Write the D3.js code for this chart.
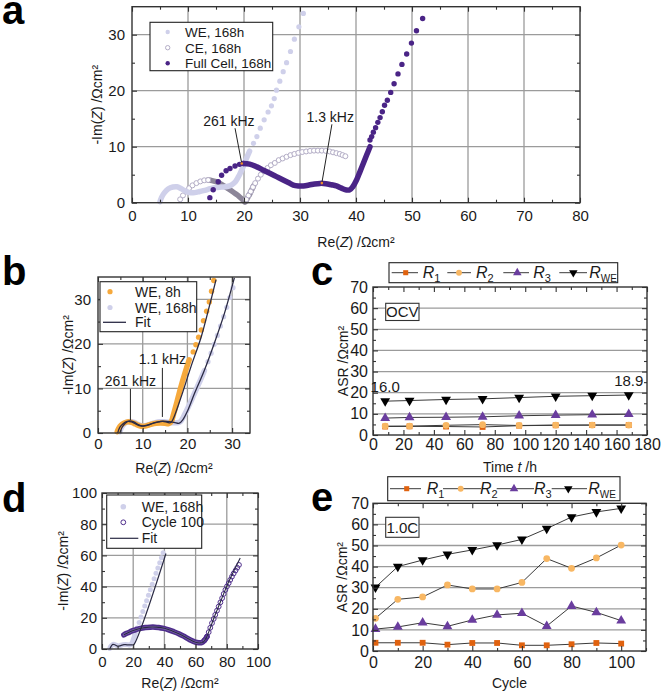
<!DOCTYPE html>
<html><head><meta charset="utf-8">
<script src="https://cdn.jsdelivr.net/npm/d3@7"></script>
<style>body{margin:0;background:#fff}</style>
</head><body><svg id="c" width="661" height="694" xmlns="http://www.w3.org/2000/svg"></svg>
<script>
// ---------------- DATA ----------------
// Panel a (Nyquist, Ωcm²)
const aWEDenseX = [5.0,5.3,5.8,6.5,7.3,8.0,8.8,9.5,10.3,11.2,12.1,13.0,14.0,15.0,16.0,17.0,17.8,18.5,19.2,19.8,20.4,21.0];
const aWEDenseY = [0.2,1.0,1.8,2.5,2.8,2.85,2.5,2.1,1.8,1.8,2.0,2.2,2.5,2.7,2.8,2.9,3.2,3.8,5.0,6.3,7.8,9.2];
const aWESparseX = [21.7,22.3,22.9,23.6,24.3,24.9,25.4,25.8,26.4,27.0,27.6,28.3,29.0,29.8,30.6];
const aWESparseY = [10.6,11.8,13.3,14.8,16.2,17.3,18.6,20.1,21.7,23.4,25.0,27.0,29.2,31.4,33.8];
const aCEX = [8.6,9.1,9.6,10.2,10.8,11.5,12.2,12.9,13.6,20.4,20.8,21.2,21.6,22.0,22.5,23.0,23.6,24.2,24.8,25.5,26.2,26.9,27.6,28.3,29.0,29.7,30.4,31.1,31.8,32.5,33.2,33.9,34.6,35.3,35.9,36.5,37.1,37.6,38.1];
const aCEY = [0.6,1.3,2.0,2.6,3.1,3.5,3.8,4.0,4.05,0.6,1.3,2.0,2.8,3.5,4.3,5.0,5.6,6.2,6.7,7.1,7.6,7.9,8.2,8.5,8.7,8.9,9.05,9.15,9.25,9.3,9.3,9.3,9.25,9.15,9.0,8.85,8.7,8.5,8.3];
const aCEDenseX = [13.6,14.3,15.0,15.7,16.4,17.1,17.8,18.5,19.1,19.6,20.0,20.2,20.6,21.1,21.7];
const aCEDenseY = [4.05,3.95,3.75,3.46,3.0,2.55,2.1,1.6,1.15,0.7,0.3,0.1,0.8,1.7,3.0];
const aFullSparse1X = [13.9,14.5,15.4,16.0,16.8,17.5,18.4,19.2,19.9];
const aFullSparse1Y = [0.9,2.3,3.75,4.9,5.7,6.1,6.55,6.85,7.0];
const aFullDenseX = [19.9,21.0,22.3,23.5,24.6,25.8,27.0,28.0,28.8,29.7,30.6,31.6,32.6,33.6,34.6,35.6,36.5,37.4,38.3,38.9,39.4,40.1,40.7,41.3,41.9,42.5];
const aFullDenseY = [7.0,6.9,6.4,5.8,5.25,4.65,4.05,3.55,3.15,3.0,3.0,3.15,3.35,3.45,3.4,3.2,3.0,2.6,2.27,2.3,2.8,4.05,5.5,7.0,8.5,10.0];
const aFullSparse2X = [42.5,42.8,43.1,43.5,43.9,44.3,44.7,45.1,45.6,46.2,46.8,47.5,48.2,49.05,49.9,50.8,51.9];
const aFullSparse2Y = [11.2,11.8,12.6,13.4,14.35,15.2,16.25,17.4,18.3,19.7,21.25,23.0,24.7,26.55,28.5,30.7,32.9];
const aAnnotLabel = ["261 kHz","1.3 kHz"];
const aAnnotPointX = [19.6,33.9], aAnnotPointY = [7.0,3.5];
const aAnnotTextX = [17.3,35.4], aAnnotTextY = [14.6,15.3];
const aAnnotLeadX = [18.4,35.7], aAnnotLeadY = [13.3,14.0];
const aLegend = ["WE, 168h","CE, 168h","Full Cell, 168h"];
const aXTicks = [0,10,20,30,40,50,60,70,80], aYTicks = [0,10,20,30];

// Panel b
const bWE8DenseX = [4.3,4.6,5.1,5.8,6.6,7.5,8.4,9.3,10.2,11.1,12.0,13.0,14.0,15.0,15.8,16.4,16.9,17.4,17.9,18.4,18.9,19.4,19.9,20.4];
const bWE8DenseY = [0.3,1.0,1.7,2.2,2.5,2.4,2.0,1.6,1.5,1.7,2.0,2.2,2.25,2.2,2.1,2.6,4.2,6.0,7.9,9.8,11.6,13.3,14.9,16.4];
const bWE8SparseX = [21.3,21.9,22.5,23.1,23.6,24.3,24.9,25.4,25.9];
const bWE8SparseY = [18.2,19.8,21.5,23.1,25.2,27.3,29.4,31.8,34.2];
const bWE168DenseX = [4.9,5.2,5.7,6.4,7.2,8.1,9.0,9.9,10.8,11.8,12.8,13.8,14.8,15.8,16.8,17.8,18.5,19.1,19.8,20.6,21.4,22.2,23.0,23.8];
const bWE168DenseY = [0.3,1.1,1.9,2.4,2.6,2.4,1.9,1.6,1.7,2.0,2.3,2.5,2.5,2.4,2.3,2.3,2.6,3.6,5.0,6.7,8.5,10.3,12.1,14.0];
const bWE168SparseX = [24.6,25.3,26.0,26.7,27.4,28.1,28.8,29.5,30.2];
const bWE168SparseY = [16.0,17.9,19.9,21.9,24.0,26.1,28.2,30.4,32.6];
const bFit8X = [4.4,4.9,5.6,6.5,7.5,8.5,9.5,10.5,11.5,12.5,13.5,14.5,15.5,16.2,16.7,18.6,20.8,23.1,24.9,26.4];
const bFit8Y = [0.0,1.3,2.1,2.6,2.5,2.0,1.6,1.6,1.9,2.3,2.5,2.6,2.4,2.3,2.9,8.1,14.9,21.6,28.4,34.4];
const bFit168X = [4.9,5.4,6.1,7.0,8.0,9.0,10.0,11.2,12.5,14.0,15.5,17.0,18.2,19.0,20.1,21.6,23.8,26.0,28.3,30.5];
const bFit168Y = [0.0,1.3,2.2,2.7,2.5,1.9,1.6,1.8,2.2,2.6,2.6,2.4,2.2,3.0,5.1,8.9,14.1,20.1,26.9,34.8];
const bAnnotLabel = ["261 kHz","1.1 kHz"];
const bAnnotTextX = [7.25,14.4], bAnnotTextY = [11.7,16.5];
const bAnnotTopY = [9.9,14.6], bAnnotBotY = [2.9,3.6];
const bLegend = ["WE, 8h","WE, 168h","Fit"];
const bXTicks = [0,10,20,30], bYTicks = [0,10,20,30];

// Panel c
const cTime = [8,24,48,72,96,120,144,168];
const cR1 = [4.0,4.1,4.0,3.8,4.4,4.6,4.7,4.7];
const cR2 = [4.2,4.2,4.6,4.9,4.5,4.7,4.7,4.7];
const cR3 = [8.0,8.3,8.4,8.6,9.1,9.4,9.6,9.8];
const cRWE = [16.0,16.3,16.8,17.1,17.7,18.3,18.6,18.9];
const cXTicks = [0,20,40,60,80,100,120,140,160,180], cYTicks = [0,10,20,30,40,50,60,70];

// Panel d
const dWEDenseX = [5,5.5,6.5,7.5,9,10.5,12,13.5,15,16.5,18,19,20.2,21.4];
const dWEDenseY = [0.3,1.5,2.6,3.0,2.5,2.0,2.4,2.8,2.9,2.8,2.6,3.5,6.5,10];
const dWESparseX = [22.6,23.8,25.0,26.2,27.4,28.6,29.8,31.0,32.2,33.4,34.6,35.8,37.0,38.1,39.2];
const dWESparseY = [13.5,17.0,20.5,24.0,27.5,31.0,34.5,38.0,41.5,45.0,48.5,52.0,55.3,58.5,61.7];
const dFitWEX = [5,6,7,8.5,10,12,14,16,18,19.5,20.3,41];
const dFitWEY = [0,2,3,2.6,1.8,2.2,2.8,2.7,2.6,2.6,2.7,61.2];
const dC100X = [14,15.5,17.2,19,21.4,24,27.8,31,34,36.3,39.5,42.7,46,49.2,52,54.5,57,59.8,62,64.1,65.7,67.3,68.4,69.4,70.5,71.6,72.6,73.7,74.8,75.9,77,78.0,79.1,80.1,81.2,82.2,83.3,84.4,85.6,86.7,87.8];
const dC100Y = [9.1,9.9,10.6,11.5,12.3,13.1,13.8,14.0,14.0,13.8,13.2,12.3,11.1,9.8,8.4,7.0,5.6,4.4,4.0,4.2,5.6,8.0,10.8,13.6,16.6,19.3,21.9,24.6,27.2,29.9,32.6,35.3,37.9,40.1,42.2,44.3,46.4,48.4,50.3,52.1,53.9];
const dFit100X = [14,17,21,25,30,35,40,45,50,55,60,63,65,67,69,72,76,80,84,88.6];
const dFit100Y = [9.1,10.6,12.2,13.3,14.0,14.0,13.3,11.6,9.4,6.8,4.3,3.9,4.6,7.5,12.5,20.5,30.4,40.3,49.0,58.3];
const dLegend = ["WE, 168h","Cycle 100","Fit"];
const dXTicks = [0,20,40,60,80,100], dYTicks = [0,20,40,60,80,100];

// Panel e
const eCycle = [1,10,20,30,40,50,60,70,80,90,100];
const eR1 = [3.9,3.9,3.9,3.0,3.8,3.8,2.7,2.7,3.2,3.8,3.5];
const eR2 = [15.5,24.5,25.6,31.3,29.4,29.4,32.5,43.8,39.2,44.1,50.2];
const eR3 = [10.4,11.4,13.4,11.7,14.7,17.1,17.9,11.8,21.3,18.3,14.4];
const eRWE = [30.2,40.0,43.1,45.8,47.9,50.2,52.9,58.0,63.5,65.9,67.6];
const eXTicks = [0,20,40,60,80,100], eYTicks = [0,10,20,30,40,50,60,70];

const seriesNames = ["1","2","3","WE"];

// ---------------- STYLE ----------------
const FONT = "'Liberation Sans', Arial, Helvetica, sans-serif";
const AX = "#333", GRID = "#9b9b9b", TXT = "#1a1a1a";
const C_WE = "#cfd0ea", C_CE = "#b3adc6", C_CEd = "#8c8699", C_FULL = "#4a2486";
const C_OR = "#f6a93c", C_FIT = "#2b2b45", C_C100 = "#4f2e8c";
const C_R1 = "#e0620f", C_R2 = "#f8b763", C_R3 = "#6a3d9e", C_RWE = "#000";

const svg = d3.select("#c");
const zip = (xs, ys) => xs.map((v,i)=>[v, ys[i]]);
const range = (a,b,s)=>d3.range(a,b+1e-9,s);

function makePanel(o){
  const g = svg.append("g");
  const x = d3.scaleLinear().domain(o.xd).range([o.l,o.r]);
  const y = d3.scaleLinear().domain(o.yd).range([o.b,o.t]);
  const inside = (v,d)=> v>d[0]+1e-9 && v<d[1]-1e-9;
  if(o.xGrid) g.append("g").selectAll("line").data(o.xGrid.filter(v=>inside(v,o.xd))).join("line")
    .attr("x1",d=>x(d)).attr("x2",d=>x(d)).attr("y1",o.t).attr("y2",o.b).attr("stroke",GRID).attr("stroke-width",1.3);
  if(o.yGrid) g.append("g").selectAll("line").data(o.yGrid.filter(v=>inside(v,o.yd))).join("line")
    .attr("y1",d=>y(d)).attr("y2",d=>y(d)).attr("x1",o.l).attr("x2",o.r).attr("stroke",GRID).attr("stroke-width",1.3);
  const data = g.append("g");
  const over = g.append("g");
  const ax = (axis, tr, labels) => {
    const s = over.append("g").attr("transform",tr).call(axis);
    s.select(".domain").remove();
    s.selectAll(".tick line").attr("stroke",AX).attr("stroke-width",1.1);
    s.selectAll("text").attr("font-size", o.fs||15).attr("font-family",FONT).attr("fill",TXT);
    if(!labels) s.selectAll("text").remove();
    return s;
  };
  const fmt = d3.format("d");
  ax(d3.axisBottom(x).tickValues(o.xMinor).tickSize(-3), `translate(0,${o.b})`, false);
  ax(d3.axisBottom(x).tickValues(o.xTicks).tickSize(-5).tickPadding(o.xpad).tickFormat(fmt), `translate(0,${o.b})`, true);
  ax(d3.axisTop(x).tickValues(o.xMinor).tickSize(-3), `translate(0,${o.t})`, false);
  ax(d3.axisTop(x).tickValues(o.xTicks).tickSize(-5), `translate(0,${o.t})`, false);
  ax(d3.axisLeft(y).tickValues(o.yMinor).tickSize(-3), `translate(${o.l},0)`, false);
  ax(d3.axisLeft(y).tickValues(o.yTicks).tickSize(-5).tickPadding(o.ypad).tickFormat(fmt), `translate(${o.l},0)`, true);
  ax(d3.axisRight(y).tickValues(o.yMinor).tickSize(-3), `translate(${o.r},0)`, false);
  ax(d3.axisRight(y).tickValues(o.yTicks).tickSize(-5), `translate(${o.r},0)`, false);
  over.append("rect").attr("x",o.l).attr("y",o.t).attr("width",o.r-o.l).attr("height",o.b-o.t)
    .attr("fill","none").attr("stroke",AX).attr("stroke-width",1.4);
  // titles
  const xt = svg.append("text").attr("x",(o.l+o.r)/2).attr("y",o.xty).attr("text-anchor","middle")
    .attr("font-family",FONT).attr("font-size",14).attr("fill",TXT);
  o.xTitle(xt);
  const yt = svg.append("text").attr("transform",`translate(${o.ytx},${(o.t+o.b)/2}) rotate(-90)`)
    .attr("text-anchor","middle").attr("dominant-baseline","central")
    .attr("font-family",FONT).attr("font-size",14).attr("fill",TXT);
  o.yTitle(yt);
  return {x,y,data,over,g,o};
}
const reZ = t => { t.append("tspan").text("Re("); t.append("tspan").attr("font-style","italic").text("Z"); t.append("tspan").text(") /Ωcm²"); };
const imZ = t => { t.append("tspan").text("-Im("); t.append("tspan").attr("font-style","italic").text("Z"); t.append("tspan").text(") /Ωcm²"); };
const asr = t => t.text("ASR /Ωcm²");

function band(P, pts, color, w){
  P.data.append("path").datum(pts).attr("d", d3.line().x(d=>P.x(d[0])).y(d=>P.y(d[1])).curve(d3.curveCatmullRom))
    .attr("fill","none").attr("stroke",color).attr("stroke-width",w).attr("stroke-linecap","round").attr("stroke-linejoin","round");
}
function dots(P, pts, r, fill, stroke, sw){
  P.data.append("g").selectAll("circle").data(pts).join("circle")
    .attr("cx",d=>P.x(d[0])).attr("cy",d=>P.y(d[1])).attr("r",r)
    .attr("fill",fill).attr("stroke",stroke||"none").attr("stroke-width",sw||1);
}
function fitLine(P, pts, color, w){
  P.data.append("path").datum(pts).attr("d", d3.line().x(d=>P.x(d[0])).y(d=>P.y(d[1])).curve(d3.curveCatmullRom))
    .attr("fill","none").attr("stroke",color).attr("stroke-width",w||1.3);
}
function panelLabel(ch, x, y){
  svg.append("text").attr("x",x).attr("y",y).attr("font-family","'Liberation Sans', Arial, sans-serif")
    .attr("font-weight","bold").attr("font-size",40).attr("fill","#000").text(ch);
}
function legendBox(x0,y0,x1,y1){
  svg.append("rect").attr("x",x0).attr("y",y0).attr("width",x1-x0).attr("height",y1-y0)
    .attr("fill","#fff").attr("stroke","#222").attr("stroke-width",1.1);
}

// ---------------- PANEL A ----------------
const A = makePanel({l:132,r:580,t:6.7,b:202.7,xd:[0,80],yd:[0,35],
  xTicks:aXTicks,xMinor:range(5,75,10),yTicks:aYTicks,yMinor:[5,15,25],
  xGrid:aXTicks,yGrid:aYTicks,xpad:8,ypad:7,xty:247,ytx:97,xTitle:reZ,yTitle:imZ});
// CE
band(A, zip(aCEDenseX,aCEDenseY), C_CEd, 5.5);
dots(A, zip(aCEX,aCEY), 2.5, "#fff", C_CE, 1);
// WE
band(A, zip(aWEDenseX,aWEDenseY), C_WE, 5.5);
dots(A, zip(aWESparseX,aWESparseY), 2.6, C_WE);
// full cell
dots(A, zip(aFullSparse1X,aFullSparse1Y), 2.7, C_FULL);
band(A, zip(aFullDenseX,aFullDenseY), C_FULL, 5.5);
dots(A, zip(aFullSparse2X,aFullSparse2Y), 2.7, C_FULL);
// annotations
aAnnotLabel.forEach((lab,i)=>{
  A.over.append("line").attr("x1",A.x(aAnnotLeadX[i])).attr("y1",A.y(aAnnotLeadY[i]))
    .attr("x2",A.x(aAnnotPointX[i])).attr("y2",A.y(aAnnotPointY[i])).attr("stroke","#222").attr("stroke-width",1);
  A.over.append("circle").attr("cx",A.x(aAnnotPointX[i])).attr("cy",A.y(aAnnotPointY[i])).attr("r",1.3).attr("fill","#f08a2a");
  A.over.append("text").attr("x",A.x(aAnnotTextX[i])).attr("y",A.y(aAnnotTextY[i])+5).attr("text-anchor","middle")
    .attr("font-family",FONT).attr("font-size",14).attr("fill",TXT).text(lab);
});
legendBox(150,22.3,272.7,70.7);
{
  const rows=[32,47.7,63.3];
  svg.append("circle").attr("cx",167.7).attr("cy",rows[0]).attr("r",2.2).attr("fill",C_WE);
  svg.append("circle").attr("cx",167.7).attr("cy",rows[1]).attr("r",2.2).attr("fill","#fff").attr("stroke",C_CE);
  svg.append("circle").attr("cx",167.7).attr("cy",rows[2]).attr("r",2.2).attr("fill",C_FULL);
  aLegend.forEach((t,i)=>svg.append("text").attr("x",185).attr("y",rows[i]+5).attr("font-family",FONT).attr("font-size",13.5).attr("fill",TXT).text(t));
}
panelLabel("a",2,23.5);

// ---------------- PANEL B ----------------
const B = makePanel({l:98,r:250,t:277,b:433,xd:[0,34],yd:[0,35],
  xTicks:bXTicks,xMinor:[5,15,25],yTicks:bYTicks,yMinor:[5,15,25],
  xGrid:bXTicks,yGrid:bYTicks,xpad:5,ypad:7,xty:473,ytx:68,xTitle:reZ,yTitle:imZ});
band(B, zip(bWE168DenseX,bWE168DenseY), C_WE, 5.5);
dots(B, zip(bWE168SparseX,bWE168SparseY), 2.6, C_WE);
band(B, zip(bWE8DenseX,bWE8DenseY), C_OR, 5.5);
dots(B, zip(bWE8SparseX,bWE8SparseY), 2.7, C_OR);
fitLine(B, zip(bFit168X,bFit168Y), C_FIT, 1.3);
fitLine(B, zip(bFit8X,bFit8Y), C_FIT, 1.3);
bAnnotLabel.forEach((lab,i)=>{
  const xx = B.x(bAnnotTextX[i]);
  B.over.append("line").attr("x1",xx).attr("x2",xx).attr("y1",B.y(bAnnotTopY[i])).attr("y2",B.y(bAnnotBotY[i])).attr("stroke","#222").attr("stroke-width",1);
  B.over.append("text").attr("x",xx).attr("y",B.y(bAnnotTextY[i])+5).attr("text-anchor","middle")
    .attr("font-family",FONT).attr("font-size",14).attr("fill",TXT).text(lab);
});
legendBox(100,281.7,196.7,331.7);
{
  const rows=[291.7,307.5,322.3];
  svg.append("circle").attr("cx",110).attr("cy",rows[0]).attr("r",2.6).attr("fill",C_OR);
  svg.append("circle").attr("cx",110).attr("cy",rows[1]).attr("r",2.6).attr("fill",C_WE);
  svg.append("line").attr("x1",103).attr("x2",126).attr("y1",rows[2]).attr("y2",rows[2]).attr("stroke",C_FIT).attr("stroke-width",1.3);
  bLegend.forEach((t,i)=>svg.append("text").attr("x",135).attr("y",rows[i]+5).attr("font-family",FONT).attr("font-size",14).attr("fill",TXT).text(t));
}
panelLabel("b",2,285);

// ---------------- PANEL D ----------------
const D = makePanel({l:102,r:258,t:493,b:649,xd:[0,100],yd:[0,100],
  xTicks:dXTicks,xMinor:range(10,90,20),yTicks:dYTicks,yMinor:range(10,90,20),
  xGrid:dXTicks,yGrid:dYTicks,xpad:7,ypad:5,xty:688,ytx:63,xTitle:reZ,yTitle:imZ});
band(D, zip(dWEDenseX,dWEDenseY), C_WE, 5);
dots(D, zip(dWESparseX,dWESparseY), 2.5, C_WE);
band(D, zip(dC100X.slice(0,22),dC100Y.slice(0,22)), C_C100, 5.5);
band(D, zip(dC100X.slice(0,22),dC100Y.slice(0,22)), "#7d65ad", 2.2);
dots(D, zip(dC100X.slice(20),dC100Y.slice(20)), 2.4, "none", C_C100, 1);
fitLine(D, zip(dFitWEX,dFitWEY), C_FIT, 1.2);
fitLine(D, zip(dFit100X,dFit100Y), C_FIT, 1.1);
legendBox(106.7,495,201.7,548.3);
{
  const rows=[506.7,522.3,538.3];
  svg.append("circle").attr("cx",123.3).attr("cy",rows[0]).attr("r",2.8).attr("fill",C_WE);
  svg.append("circle").attr("cx",123.3).attr("cy",rows[1]).attr("r",2.4).attr("fill","none").attr("stroke",C_C100);
  svg.append("line").attr("x1",110).attr("x2",138.3).attr("y1",rows[2]).attr("y2",rows[2]).attr("stroke",C_FIT).attr("stroke-width",1.2);
  dLegend.forEach((t,i)=>svg.append("text").attr("x",141.7).attr("y",rows[i]+5).attr("font-family",FONT).attr("font-size",14).attr("fill",TXT).text(t));
}
panelLabel("d",2,512);

// ---------------- PANEL C / E ----------------
const symType = [d3.symbolSquare, d3.symbolCircle, d3.symbolTriangle, d3.symbolTriangle];
const symSize = [34, 36, 42, 42];
const symRot = [0,0,0,180];
const symCol = [C_R1, C_R2, C_R3, C_RWE];
function drawSeries(P, xs, series){
  series.forEach((ys,k)=>{
    P.data.append("path").datum(zip(xs,ys)).attr("d", d3.line().x(d=>P.x(d[0])).y(d=>P.y(d[1])))
      .attr("fill","none").attr("stroke","#3a3a3a").attr("stroke-width",1);
  });
  series.forEach((ys,k)=>{
    P.data.append("g").selectAll("path").data(zip(xs,ys)).join("path")
      .attr("d", d3.symbol().type(symType[k]).size(symSize[k]))
      .attr("transform", d=>`translate(${P.x(d[0])},${P.y(d[1])}) rotate(${symRot[k]})`)
      .attr("fill", symCol[k]);
  });
}
function seriesLegend(box, items){
  legendBox(box[0],box[1],box[2],box[3]);
  const cy = (box[1]+box[3])/2;
  items.forEach((it,k)=>{
    svg.append("line").attr("x1",it[0]).attr("x2",it[1]).attr("y1",cy).attr("y2",cy).attr("stroke","#3a3a3a").attr("stroke-width",1);
    svg.append("path").attr("d", d3.symbol().type(symType[k]).size(symSize[k]*0.75))
      .attr("transform",`translate(${it[2]},${cy}) rotate(${symRot[k]})`).attr("fill",symCol[k]);
    const t = svg.append("text").attr("x",it[3]).attr("y",cy+5.5).attr("font-family",FONT).attr("font-size",16).attr("fill",TXT);
    t.append("tspan").attr("font-style","italic").text("R");
    t.append("tspan").attr("font-size",k===3?10:11).attr("dy",4).text(seriesNames[k]);
  });
}
function boxLabel(txt, x0,y0,x1,y1){
  svg.append("rect").attr("x",x0).attr("y",y0).attr("width",x1-x0).attr("height",y1-y0).attr("fill","#fff").attr("stroke","#333").attr("stroke-width",1.1);
  svg.append("text").attr("x",(x0+x1)/2).attr("y",(y0+y1)/2+5.3).attr("text-anchor","middle").attr("font-family",FONT).attr("font-size",15).attr("fill",TXT).text(txt);
}

const Cp = makePanel({l:373,r:647,t:287,b:435,xd:[0,180],yd:[0,70],
  xTicks:cXTicks,xMinor:range(10,170,20),yTicks:cYTicks,yMinor:range(5,65,10),
  yGrid:cYTicks,xpad:4,ypad:5,xty:472,ytx:343,fs:16,
  xTitle:t=>{t.append("tspan").text("Time "); t.append("tspan").attr("font-style","italic").text("t"); t.append("tspan").text(" /h");},
  yTitle:asr});
drawSeries(Cp, cTime, [cR1,cR2,cR3,cRWE]);
boxLabel("OCV",385.7,303.3,419,320.5);
Cp.over.append("text").attr("x",Cp.x(cTime[0])).attr("y",Cp.y(cRWE[0])-9).attr("text-anchor","middle").attr("font-family",FONT).attr("font-size",15).attr("fill",TXT).text(cRWE[0].toFixed(1));
Cp.over.append("text").attr("x",Cp.x(cTime[cTime.length-1])).attr("y",Cp.y(cRWE[cRWE.length-1])-9).attr("text-anchor","middle").attr("font-family",FONT).attr("font-size",15).attr("fill",TXT).text(cRWE[cRWE.length-1].toFixed(1));
seriesLegend([389,262.7,617.7,282.7],[[391.7,418,405.7,422.7],[447.3,471,459,476],[503.3,529,517.3,533.3],[559.3,587,573.3,589.3]]);
panelLabel("c",311,285);

const E = makePanel({l:373,r:646,t:503.3,b:651,xd:[0,110],yd:[0,70],
  xTicks:eXTicks,xMinor:range(10,110,20),yTicks:eYTicks,yMinor:range(5,65,10),
  yGrid:eYTicks,xpad:6,ypad:4,xty:688,ytx:342,fs:16,
  xTitle:t=>t.text("Cycle"), yTitle:asr});
drawSeries(E, eCycle, [eR1,eR2,eR3,eRWE]);
boxLabel("1.0C",385.7,517.3,419,537.3);
seriesLegend([387.7,476.7,620,500.7],[[390,421,406.7,426.7],[443,481,460.7,480],[496.7,534,514,534],[551.7,587,568.3,588.3]]);
panelLabel("e",311,511);
</script></body></html>
